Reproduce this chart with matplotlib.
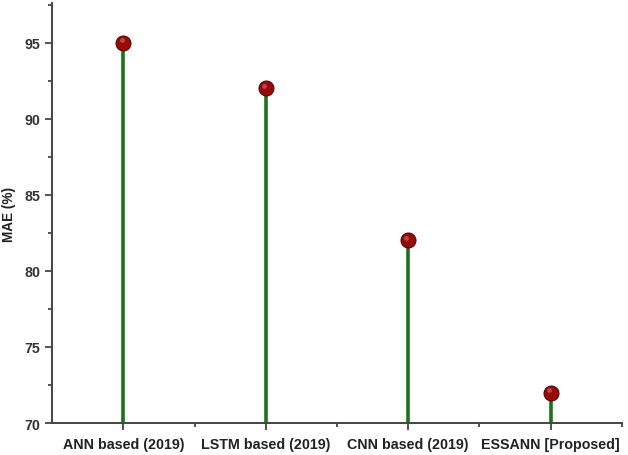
import matplotlib

matplotlib.use("Agg")

import matplotlib.pyplot as plt
from matplotlib.ticker import FixedLocator, MultipleLocator

methods = ["ANN based (2019)", "LSTM based (2019)", "CNN based (2019)", "ESSANN [Proposed]"]
mae = [95, 92, 82, 72]

plt.rcParams["font.family"] = ["Liberation Sans", "DejaVu Sans"]

fig = plt.figure(figsize=(6.28, 4.56), dpi=100)
ax = fig.add_axes([0.083, 0.070, 0.907, 0.921])

x = list(range(1, len(methods) + 1))
base = 70
ax.vlines(x, base, mae, color="#1c721c", linewidth=2.6, zorder=2)
ax.scatter(x, mae, s=115, color="#960a0a", edgecolor="#5c0000", linewidth=0.8, zorder=3)
# small highlight on each ball
ax.scatter([v - 0.012 for v in x], [m + 0.18 for m in mae], s=12, color="#d06060",
           linewidth=0, alpha=0.7, zorder=4)

ax.set_xlim(0.5, 4.5)
ax.set_ylim(70, 97.6)
ax.xaxis.set_major_locator(FixedLocator(x))
ax.xaxis.set_minor_locator(FixedLocator([1.5, 2.5, 3.5, 4.5]))
ax.set_xticklabels(methods, fontsize=10.3, fontweight="bold", color="#222222")
ax.yaxis.set_major_locator(MultipleLocator(5))
ax.yaxis.set_minor_locator(MultipleLocator(2.5))
for lab in ax.get_yticklabels():
    lab.set_fontweight("bold")
    lab.set_fontsize(10.3)
    lab.set_color("#333333")
ax.set_ylabel("MAE (%)", fontsize=9.8, fontweight="bold", color="#222222", labelpad=6)

ax.tick_params(axis="both", which="major", length=5, width=1.3, color="#444444")
ax.tick_params(axis="both", which="minor", length=3, width=1.3, color="#444444")
ax.tick_params(axis="x", pad=5)
ax.spines[["top", "right"]].set_visible(False)
for side in ["left", "bottom"]:
    ax.spines[side].set_linewidth(1.4)
    ax.spines[side].set_color("#444444")

fig.savefig("out.png", dpi=100)
